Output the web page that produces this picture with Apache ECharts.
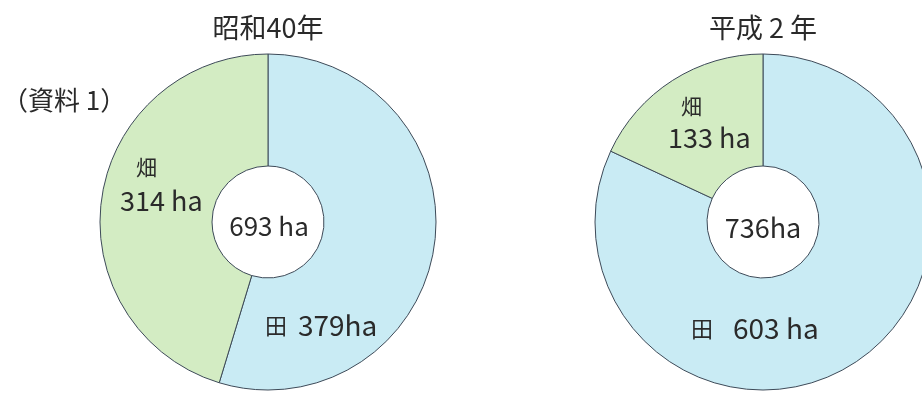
<!DOCTYPE html>
<html>
<head>
<meta charset="utf-8">
<style>
  html, body { margin: 0; padding: 0; background: #ffffff; }
  #chart { width: 922px; height: 394px; }
</style>
<script src="https://cdn.jsdelivr.net/npm/echarts@6/dist/echarts.min.js"></script>
</head>
<body>
<div id="chart"></div>
<script>
const years = ['昭和40年', '平成 2 年'];
const categories = ['田', '畑'];
const showa40 = [379, 314];
const heisei2 = [603, 133];
const totals = [693, 736];

const font = '"Noto Sans CJK JP", "Noto Sans", sans-serif';
const colors = ['#c9ebf4', '#d3ecc3'];
const textColor = '#2a2a2a';

const pie = (values, cx) => ({
  type: 'pie',
  center: [cx, 222],
  radius: [56, 168],
  startAngle: 90,
  clockwise: true,
  silent: true,
  label: { show: false },
  labelLine: { show: false },
  itemStyle: { borderColor: '#3d4a58', borderWidth: 1 },
  data: categories.map((name, i) => ({
    name,
    value: values[i],
    itemStyle: { color: colors[i] },
  })),
});

const txt = (x, y, text, size, align = 'center') => ({
  type: 'text',
  x,
  y,
  z: 100,
  style: {
    text,
    font: `${size}px ${font}`,
    fill: textColor,
    align,
    verticalAlign: 'middle',
  },
});

const chart = echarts.init(document.getElementById('chart'));
chart.setOption({
  animation: false,
  backgroundColor: '#ffffff',
  series: [pie(showa40, 268), pie(heisei2, 763)],
  graphic: [
    txt(268, 28, years[0], 27),
    txt(763, 28, years[1], 27),
    txt(2, 100, '（資料 1）', 26, 'left'),
    // 昭和40年
    txt(136, 167, categories[1], 21, 'left'),
    txt(120, 201, showa40[1] + ' ha', 27, 'left'),
    txt(269, 226, totals[0] + ' ha', 26),
    txt(265, 326, categories[0], 22, 'left'),
    txt(298, 325, showa40[0] + 'ha', 28, 'left'),
    // 平成２年
    txt(681, 106, categories[1], 21, 'left'),
    txt(668, 138, heisei2[1] + ' ha', 27, 'left'),
    txt(763, 228, totals[1] + 'ha', 27),
    txt(691, 329, categories[0], 22, 'left'),
    txt(733, 328, heisei2[0] + ' ha', 28, 'left'),
  ],
});
</script>
</body>
</html>
